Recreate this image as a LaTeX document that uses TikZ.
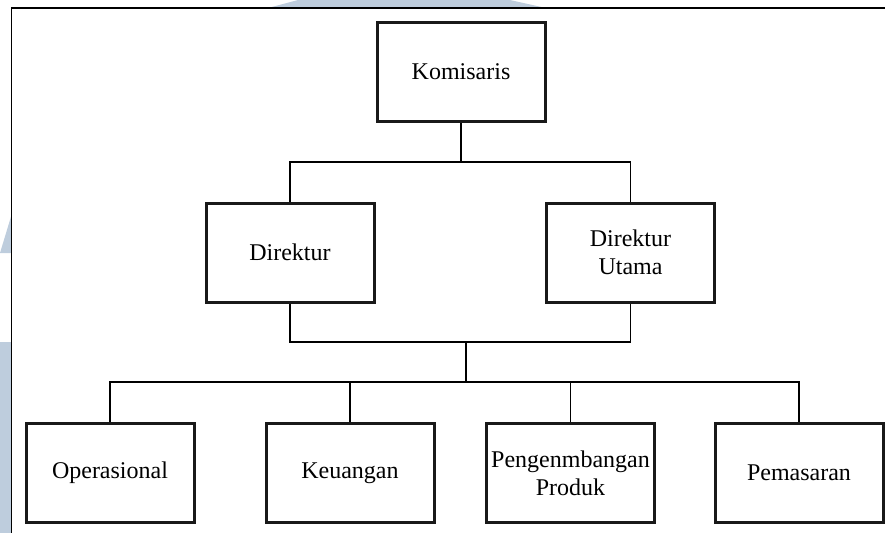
\documentclass[tikz,border=0pt]{standalone}
\usepackage{fontspec}
\setmainfont{Liberation Serif}
\usepackage{tikz}
\usetikzlibrary{calc}
\usetikzlibrary{positioning}
\definecolor{markblue}{RGB}{190,205,221}
\definecolor{boxline}{RGB}{25,25,25}

\begin{document}
\begin{tikzpicture}[x=0.5pt, y=-0.5pt,
  box/.style={draw=boxline, line width=1.5pt, fill=white, minimum width=84pt, minimum height=49.5pt, inner sep=1pt, align=center, font=\fontsize{12}{14}\selectfont},
  link/.style={draw=black, line width=0.8pt}]
\useasboundingbox (0,0) rectangle (885,532);
\clip (0,0) rectangle (885,532);
\fill[markblue] (268,8) -- (298,0) -- (510,0) -- (546,8) -- cycle;
\fill[markblue] (11.5,215) -- (11.5,253) -- (0,253) -- cycle;
\fill[markblue] (0,342) rectangle (11.5,540);
\draw[black, line width=0.8pt] (900,8) -- (11.5,8) -- (11.5,545);
\node[box] (kom) at (461,72) {Komisaris};
\node[box] (dir) at (290,252.5) {Direktur};
\node[box] (utama) at (630.5,252.5) {Direktur\\Utama};
\node[box] (ops) at (110,473) {Operasional};
\node[box] (keu) at (350,473) {Keuangan};
\node[box] (prod) at (570.5,473) {Pengenmbangan\\Produk};
\node[box] (pem) at (799,473) {Pemasaran};
\coordinate (top) at (461,162);
\coordinate (mid) at (466,342);
\coordinate (low) at (466,382);
\draw[link] (kom.south) -- (top);
\draw[link] (dir.north) |- (top) -| (utama.north);
\draw[link] (dir.south) |- (mid) -| (utama.south);
\draw[link] (mid) -- (low);
\draw[link] (ops.north) |- (low) -| (pem.north);
\draw[link] (keu.north) -- (keu.north |- low);
\draw[link] (prod.north) -- (prod.north |- low);
\end{tikzpicture}
\end{document}
